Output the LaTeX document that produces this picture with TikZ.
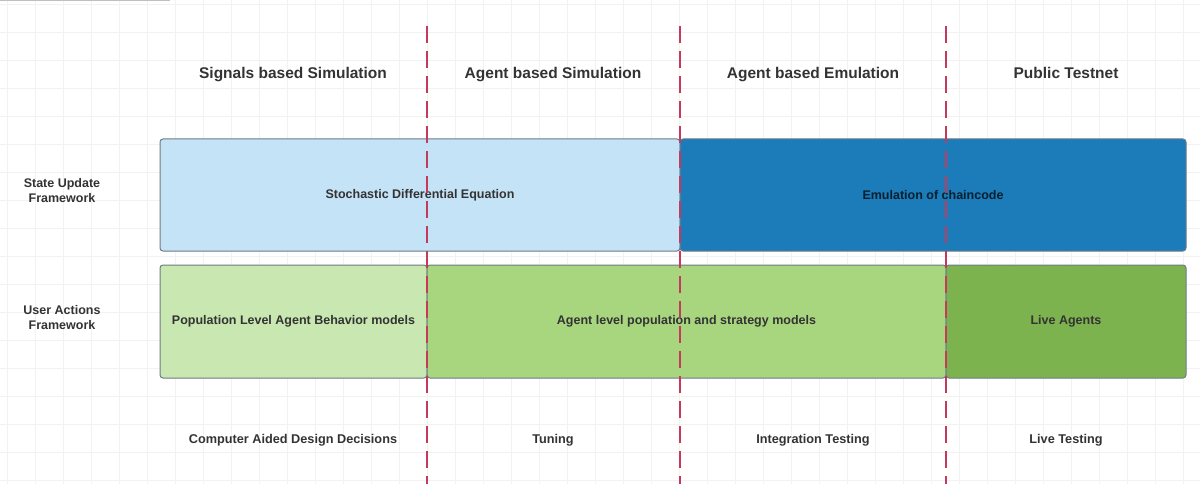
\documentclass[tikz,border=0pt]{standalone}
\usepackage{fontspec}
\setmainfont{Liberation Sans}
\usetikzlibrary{positioning}
\definecolor{sdeblue}{HTML}{C5E3F6}
\definecolor{emublue}{HTML}{1C7CBA}
\definecolor{popgreen}{HTML}{C9E7B0}
\definecolor{agentgreen}{HTML}{A8D67F}
\definecolor{livegreen}{HTML}{7DB34F}
\definecolor{edgegrey}{HTML}{6E7B84}
\definecolor{divred}{HTML}{C43A5C}
\definecolor{inkgrey}{HTML}{333333}
\tikzset{
  phase/.style={font=\bfseries\fontsize{15.5}{18}\selectfont, text=inkgrey, anchor=base},
  rowlabel/.style={font=\bfseries\fontsize{12.5}{15}\selectfont, text=inkgrey, align=center},
  outcome/.style={font=\bfseries\fontsize{12.7}{15}\selectfont, text=inkgrey, anchor=base},
  stagebox/.style={draw=edgegrey, line width=1pt, rounded corners=3pt, inner sep=0pt,
    font=\bfseries\fontsize{12.5}{15}\selectfont, text=inkgrey},
  divider/.style={divred, line width=1.4pt, dash pattern=on 17pt off 8pt},
  gridline/.style={black!5, line width=0.5pt}
}
\begin{document}
\begin{tikzpicture}[x=1pt,y=-1pt]
  \useasboundingbox (0,0) rectangle (1200,484);
  \fill[white] (0,0) rectangle (1200,484);
  \draw[gridline, xshift=7pt, yshift=-4pt] (-7,-24) grid[step=28pt] (1200,484);
  \draw[black!25, line width=1.5pt] (0,0.5) -- (170,0.5);

  % column headings
  \node[phase] (h1) at (293,78.5) {Signals based Simulation};
  \node[phase] (h2) at (553,78.5) {Agent based Simulation};
  \node[phase] (h3) at (813,78.5) {Agent based Emulation};
  \node[phase] (h4) at (1066,78.5) {Public Testnet};

  % row labels
  \node[rowlabel] (r1) at (62,191) {State Update\\Framework};
  \node[rowlabel] (r2) at (62,318) {User Actions\\Framework};

  % state update row
  \node[stagebox, fill=sdeblue, minimum width=520pt, minimum height=112pt] (sde) at (420,195) {Stochastic Differential Equation};
  \node[stagebox, fill=emublue, text=black!75!emublue, minimum width=506pt, minimum height=112pt] (emu) at (933,195) {Emulation of chaincode};

  % user actions row
  \node[stagebox, fill=popgreen, minimum width=267pt, minimum height=113pt] (pop) at (293.5,321.5) {Population Level Agent Behavior models};
  \node[stagebox, fill=agentgreen, minimum width=519pt, minimum height=113pt] (agt) at (686.5,321.5) {Agent level population and strategy models};
  \node[stagebox, fill=livegreen, text=black!80, minimum width=240pt, minimum height=113pt] (live) at (1066,321.5) {Live Agents};

  % outcomes
  \node[outcome] (o1) at (293,443.5) {Computer Aided Design Decisions};
  \node[outcome] (o2) at (553,443.5) {Tuning};
  \node[outcome] (o3) at (813,443.5) {Integration Testing};
  \node[outcome] (o4) at (1066,443.5) {Live Testing};

  % phase dividers
  \coordinate (d1top) at (427,26);
  \coordinate (d1bot) at (427,484);
  \coordinate (d2top) at (680,26);
  \coordinate (d2bot) at (680,484);
  \coordinate (d3top) at (946,26);
  \coordinate (d3bot) at (946,484);
  \draw[divider] (d1top) -- (d1bot);
  \draw[divider] (d2top) -- (d2bot);
  \draw[divider] (d3top) -- (d3bot);
\end{tikzpicture}
\end{document}
